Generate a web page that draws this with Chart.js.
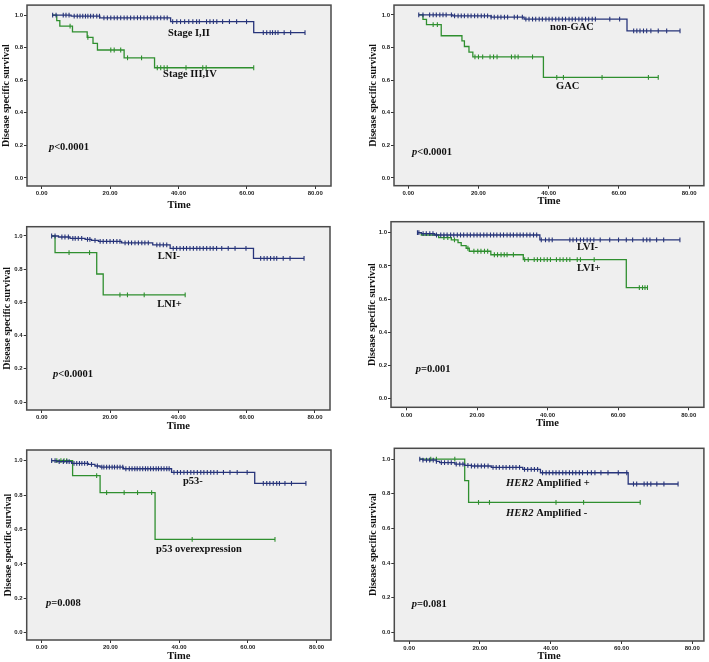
<!DOCTYPE html>
<html>
<head>
<meta charset="utf-8">
<script src="https://cdn.jsdelivr.net/npm/chart.js@4"></script>
<style>
  body { margin: 0; background: #fff; }
  canvas.panel { position: absolute; }
</style>
</head>
<body>
<canvas id="c1" class="panel"></canvas>
<canvas id="c2" class="panel"></canvas>
<canvas id="c3" class="panel"></canvas>
<canvas id="c4" class="panel"></canvas>
<canvas id="c5" class="panel"></canvas>
<canvas id="c6" class="panel"></canvas>
<script>
// axis ticks shared by all panels
const xTicks = [0, 20, 40, 60, 80];
const yTicks = [0, 0.2, 0.4, 0.6, 0.8, 1.0];

// Stage I,II vs Stage III,IV
const stageLowT = [3, 8.6, 17, 37.7, 62, 77];
const stageLowS = [1, 0.994, 0.984, 0.96, 0.893, 0.893];
const stageLowCens = [3.2, 4.2, 6.3, 7.1, 8.0, 9.5, 10.4, 11.2, 12.0, 12.8, 13.5, 14.3, 15.1, 16.1, 16.9, 18.2, 19.2, 20.2, 21.2, 22.1, 23.1, 24.1, 25.0, 26.0, 27.0, 28.0, 28.9, 29.9, 30.9, 31.9, 32.8, 33.8, 34.8, 35.8, 36.7, 38.3, 39.5, 40.6, 41.8, 43.0, 44.2, 45.3, 46.1, 48.2, 49.2, 50.2, 51.2, 52.9, 54.9, 57.0, 59.9, 64.8, 65.8, 66.8, 67.5, 68.3, 69.1, 70.9, 72.8, 77.0];
const stageHighT = [3, 4.4, 5.3, 9, 13.3, 15, 16.3, 24.1, 33, 62];
const stageHighS = [1, 0.966, 0.933, 0.897, 0.863, 0.827, 0.786, 0.738, 0.677, 0.677];
const stageHighCens = [8.3, 13.5, 20.2, 21.2, 23.1, 25.1, 29.2, 33.8, 34.8, 35.8, 36.7, 42.2, 47.1, 48.1, 62];

// non-GAC vs GAC
const nonGacT = [3, 12.7, 23.6, 33, 62.3, 77.4];
const nonGacS = [1, 0.994, 0.986, 0.974, 0.902, 0.902];
const nonGacCens = [3.0, 4.2, 6.1, 7.1, 8.0, 9.0, 9.9, 10.8, 12.3, 13.2, 14.2, 15.1, 16.0, 17.0, 17.9, 18.9, 19.8, 20.8, 21.7, 22.6, 23.6, 24.5, 25.5, 26.4, 27.4, 28.3, 30.2, 31.1, 32.5, 33.5, 34.4, 35.4, 36.3, 37.3, 38.2, 39.2, 40.1, 41.0, 42.0, 42.9, 43.9, 44.8, 45.8, 46.7, 47.6, 48.6, 49.5, 50.5, 51.4, 52.4, 53.3, 57.4, 60.2, 64.2, 65.1, 66.0, 67.0, 67.9, 69.1, 71.2, 73.6, 77.4];
const gacT = [3, 4.2, 5.2, 9.4, 15.3, 16, 17.3, 18.4, 38.5, 71.2];
const gacS = [1, 0.972, 0.94, 0.872, 0.84, 0.806, 0.772, 0.742, 0.616, 0.616];
const gacCens = [7.1, 8.3, 19.0, 20.0, 21.2, 23.3, 24.3, 25.3, 29.4, 30.4, 31.3, 35.4, 42.3, 44.2, 55.2, 68.4, 71.2];

// LNI- vs LNI+
const lniNegT = [3, 4.9, 8.3, 12.7, 14.6, 16.6, 23.4, 32.5, 37.6, 62, 76.8];
const lniNegS = [1, 0.994, 0.986, 0.98, 0.974, 0.968, 0.958, 0.946, 0.926, 0.865, 0.865];
const lniNegCens = [2.9, 3.9, 5.9, 6.8, 7.8, 9.1, 9.8, 10.7, 11.7, 13.4, 14.1, 15.6, 17.1, 18.0, 19.0, 20.0, 21.0, 22.0, 22.9, 24.4, 25.4, 26.3, 27.3, 28.3, 29.3, 30.2, 31.2, 33.7, 34.6, 35.6, 36.6, 38.5, 39.5, 40.5, 41.5, 42.4, 43.4, 44.4, 45.4, 46.3, 47.3, 48.3, 49.3, 50.2, 51.2, 52.7, 54.6, 56.6, 59.8, 64.1, 65.1, 66.0, 67.0, 68.0, 68.8, 70.7, 72.7, 76.8];
const lniPosT = [3, 3.9, 16.1, 18, 42];
const lniPosS = [1, 0.9, 0.771, 0.645, 0.645];
const lniPosCens = [8, 14, 22.9, 25.1, 30, 42];

// LVI- vs LVI+
const lviNegT = [3.1, 4.2, 8, 37.8, 77.5];
const lviNegS = [1, 0.994, 0.986, 0.956, 0.956];
const lviNegCens = [3.1, 3.5, 4.7, 5.6, 6.6, 7.5, 8.5, 9.7, 10.6, 11.5, 12.5, 13.4, 14.4, 15.3, 16.2, 17.2, 18.1, 19.1, 20.0, 20.9, 21.9, 22.8, 23.8, 24.7, 25.6, 26.6, 27.5, 28.5, 29.4, 30.3, 31.3, 32.2, 33.1, 34.1, 35.0, 36.0, 36.9, 38.2, 39.4, 40.4, 41.3, 46.3, 47.2, 48.2, 49.3, 50.2, 51.2, 52.1, 53.1, 54.9, 57.6, 60.1, 62.3, 64.1, 67.1, 68.1, 69.0, 70.9, 72.9, 77.5];
const lviPosT = [3.1, 4.2, 9.1, 12.7, 14.6, 15.5, 16.9, 17.8, 23.9, 33.1, 62.3, 68.3];
const lviPosS = [1, 0.986, 0.97, 0.956, 0.94, 0.922, 0.906, 0.888, 0.867, 0.837, 0.669, 0.669];
const lviPosCens = [10.6, 11.7, 13.6, 17.4, 19.1, 20.2, 21.1, 22.1, 23.0, 24.9, 25.8, 26.8, 27.7, 28.5, 30.3, 33.5, 34.5, 36.2, 37.1, 38.0, 39.0, 39.9, 40.8, 42.5, 43.5, 44.4, 45.4, 46.3, 48.4, 49.3, 53.2, 66.0, 66.9, 67.6, 68.3];

// p53- vs p53 overexpression
const p53NegT = [2.9, 4.4, 8.7, 13.6, 15.5, 17, 23.8, 37.8, 62, 76.9];
const p53NegS = [1, 0.994, 0.984, 0.979, 0.969, 0.963, 0.953, 0.932, 0.868, 0.868];
const p53NegCens = [2.9, 3.9, 5.1, 6.3, 7.3, 8.0, 9.4, 10.2, 11.0, 11.7, 12.5, 13.3, 14.5, 16.2, 17.5, 18.1, 18.9, 19.7, 20.5, 21.2, 22.0, 22.8, 23.6, 24.5, 25.5, 26.3, 27.1, 27.8, 28.6, 29.4, 30.2, 30.9, 31.7, 32.5, 33.3, 34.0, 34.8, 35.6, 36.4, 37.1, 38.5, 39.5, 40.4, 41.4, 42.4, 43.4, 44.3, 45.3, 46.3, 47.2, 48.2, 49.2, 50.1, 51.1, 52.9, 54.8, 56.9, 59.8, 64.5, 65.5, 66.4, 67.4, 68.4, 69.2, 70.8, 72.7, 76.9];
const p53OverT = [2.9, 9, 17, 33, 67.9];
const p53OverS = [1, 0.913, 0.814, 0.543, 0.543];
const p53OverCens = [4.4, 5.6, 6.5, 7.3, 16.0, 18.9, 24.0, 27.9, 32.0, 43.8, 67.9];

// HER2 Amplified + vs HER2 Amplified -
const her2PosT = [3, 3.9, 7.7, 8.6, 12.9, 15.7, 17.6, 23.2, 32.1, 37.1, 61.9, 76];
const her2PosS = [1, 0.994, 0.987, 0.979, 0.971, 0.963, 0.96, 0.952, 0.94, 0.921, 0.856, 0.856];
const her2PosCens = [3.0, 3.9, 4.9, 5.8, 6.8, 7.7, 9.1, 10.0, 11.0, 11.9, 13.3, 14.3, 15.2, 16.6, 17.6, 18.5, 19.4, 20.4, 21.3, 22.3, 23.7, 24.6, 25.5, 26.5, 27.4, 28.4, 29.3, 30.2, 31.2, 32.6, 33.5, 34.5, 35.4, 36.3, 37.7, 38.7, 39.6, 40.6, 41.5, 42.4, 43.4, 44.3, 45.3, 46.2, 47.1, 48.1, 49.0, 50.4, 51.5, 52.5, 54.2, 56.2, 59.1, 61.5, 63.4, 64.3, 66.4, 67.3, 68.3, 70.0, 72.0, 76.0];
const her2NegT = [3, 15.7, 16.8, 65.3];
const her2NegS = [1, 0.875, 0.75, 0.75];
const her2NegCens = [6.1, 7.7, 12.9, 19.6, 22.7, 41.5, 49.3, 65.3];

const BLUE = '#27347a';
const GREEN = '#2f8f2f';
const SERIF = '"Liberation Serif", "Times New Roman", serif';
const SANS = '"Liberation Sans", Arial, sans-serif';

// box = canvas [x, y, w, h]; frame = plot box [left, top, right, bottom], page pixels
const panels = [
  { id: 'c1', box: [0, 0, 355, 215], frame: [27, 2, 331, 186], x: [-4.3, 84.6], y: [-0.05, 1.062], yTitleX: 6, timeY: 205,
    curves: [[stageLowT, stageLowS, stageLowCens, BLUE], [stageHighT, stageHighS, stageHighCens, GREEN]],
    labels: [{ parts: [['Stage I,II']], at: [36.9, 0.887] }, { parts: [['Stage III,IV']], at: [35.5, 0.635] },
             { parts: [['p', true], ['<0.0001']], at: [2.1, 0.187] }] },
  { id: 'c2', box: [360, 0, 349, 215], frame: [394, 1, 706, 185.7], x: [-4.05, 84.2], y: [-0.048, 1.06], yTitleX: 373, timeY: 201.7,
    curves: [[nonGacT, nonGacS, nonGacCens, BLUE], [gacT, gacS, gacCens, GREEN]],
    labels: [{ parts: [['non-GAC']], at: [40.4, 0.922] }, { parts: [['GAC']], at: [42.1, 0.562] },
             { parts: [['p', true], ['<0.0001']], at: [1.05, 0.156] }] },
  { id: 'c3', box: [0, 215, 355, 225], frame: [26.7, 226.7, 330, 410], x: [-4.4, 84.4], y: [-0.048, 1.056], yTitleX: 7.5, timeY: 426.7,
    curves: [[lniNegT, lniNegS, lniNegCens, BLUE], [lniPosT, lniPosS, lniPosCens, GREEN]],
    labels: [{ parts: [['LNI-']], at: [34, 0.875] }, { parts: [['LNI+']], at: [33.8, 0.59] },
             { parts: [['p', true], ['<0.0001']], at: [3.3, 0.167] }] },
  { id: 'c4', box: [360, 215, 349, 225], frame: [391, 221.7, 706, 407.3], x: [-4.4, 84.3], y: [-0.052, 1.066], yTitleX: 372, timeY: 423.3,
    curves: [[lviNegT, lviNegS, lviNegCens, BLUE], [lviPosT, lviPosS, lviPosCens, GREEN]],
    labels: [{ parts: [['LVI-']], at: [48.3, 0.912] }, { parts: [['LVI+']], at: [48.3, 0.786] },
             { parts: [['p', true], ['=0.001']], at: [2.6, 0.179] }] },
  { id: 'c5', box: [0, 440, 355, 222], frame: [26.7, 450, 331, 640], x: [-4.36, 84.2], y: [-0.042, 1.062], yTitleX: 8.3, timeY: 657,
    curves: [[p53NegT, p53NegS, p53NegCens, BLUE], [p53OverT, p53OverS, p53OverCens, GREEN]],
    labels: [{ parts: [['p53-']], at: [41.1, 0.878] }, { parts: [['p53 overexpression']], at: [33.3, 0.487] },
             { parts: [['p', true], ['=0.008']], at: [1.25, 0.171] }] },
  { id: 'c6', box: [360, 440, 349, 222], frame: [394.3, 448.3, 705, 641], x: [-4.2, 83.3], y: [-0.05, 1.062], yTitleX: 373, timeY: 656.7,
    curves: [[her2PosT, her2PosS, her2PosCens, BLUE], [her2NegT, her2NegS, her2NegCens, GREEN]],
    labels: [{ parts: [['HER2', true], [' Amplified +']], at: [27.4, 0.86] }, { parts: [['HER2', true], [' Amplified -']], at: [27.4, 0.688] },
             { parts: [['p', true], ['=0.081']], at: [0.76, 0.162] }] }
];

// survival value of a step curve at time t
function survAt(times, surv, t) {
  let s = surv[0];
  times.forEach((tt, i) => { if (tt <= t) s = surv[i]; });
  return s;
}

const framePlugin = {
  id: 'kmFrame',
  beforeDraw(chart) {
    const { ctx, chartArea: a } = chart;
    ctx.save();
    ctx.fillStyle = '#efefef';
    ctx.fillRect(a.left, a.top, a.right - a.left, a.bottom - a.top);
    ctx.restore();
  },
  afterDraw(chart) {
    const { ctx, chartArea: a, scales } = chart;
    ctx.save();
    ctx.strokeStyle = '#4a4a4a';
    ctx.lineWidth = 1.5;
    ctx.strokeRect(a.left, a.top, a.right - a.left, a.bottom - a.top);
    ctx.fillStyle = '#111';
    ctx.textBaseline = 'middle';
    ctx.textAlign = 'left';
    chart.options.plugins.kmFrame.labels.forEach(lab => {
      let px = scales.x.getPixelForValue(lab.at[0]);
      const py = scales.y.getPixelForValue(lab.at[1]);
      lab.parts.forEach(([text, italic]) => {
        ctx.font = (italic ? 'italic ' : '') + 'bold 10.5px ' + SERIF;
        ctx.fillText(text, px, py);
        px += ctx.measureText(text).width;
      });
    });
    ctx.restore();
  }
};

panels.forEach(p => {
  const canvas = document.getElementById(p.id);
  const [bx, by, bw, bh] = p.box;
  const [fl, ft, fr, fb] = p.frame;
  canvas.width = bw;
  canvas.height = bh;
  canvas.style.left = bx + 'px';
  canvas.style.top = by + 'px';

  const datasets = [];
  p.curves.forEach(([times, surv, cens, color]) => {
    datasets.push({
      data: times.map((t, i) => ({ x: t, y: surv[i] })),
      borderColor: color,
      borderWidth: 1.3,
      stepped: true,
      pointRadius: 0,
      fill: false
    });
    datasets.push({
      data: cens.map(t => ({ x: t, y: survAt(times, surv, t) })),
      showLine: false,
      pointStyle: 'line',
      rotation: 90,
      pointRadius: 2.4,
      borderColor: color,
      borderWidth: 1.1
    });
  });

  new Chart(canvas, {
    type: 'line',
    data: { datasets },
    options: {
      responsive: false,
      animation: false,
      devicePixelRatio: 1,
      layout: { padding: { left: 0, top: ft - by, right: bx + bw - fr, bottom: 0 } },
      plugins: {
        legend: { display: false },
        tooltip: { enabled: false },
        kmFrame: { labels: p.labels }
      },
      scales: {
        x: {
          type: 'linear',
          min: p.x[0],
          max: p.x[1],
          afterBuildTicks: s => { s.ticks = xTicks.map(v => ({ value: v })); },
          afterFit: s => { s.height = by + bh - fb; },
          grid: { drawOnChartArea: false, drawTicks: true, tickLength: 3, tickColor: '#333' },
          border: { display: false },
          ticks: { autoSkip: false, maxRotation: 0, padding: 1, color: '#222',
                   font: { family: SANS, size: 6, weight: 'bold' }, callback: v => v.toFixed(2) },
          title: { display: true, text: 'Time', color: '#111',
                   font: { family: SERIF, size: 10.5, weight: 'bold', lineHeight: 1 },
                   padding: { top: 0, bottom: Math.max(0, by + bh - p.timeY - 5.25) } }
        },
        y: {
          min: p.y[0],
          max: p.y[1],
          afterBuildTicks: s => { s.ticks = yTicks.map(v => ({ value: v })); },
          afterFit: s => { s.width = fl - bx; },
          grid: { drawOnChartArea: false, drawTicks: true, tickLength: 3, tickColor: '#333' },
          border: { display: false },
          ticks: { autoSkip: false, padding: 1, color: '#222',
                   font: { family: SANS, size: 6, weight: 'bold' }, callback: v => v.toFixed(1) },
          title: { display: true, text: 'Disease specific survival', color: '#111',
                   font: { family: SERIF, size: 10, weight: 'bold', lineHeight: 1 },
                   padding: { top: Math.max(0, p.yTitleX - bx - 5), bottom: 0 } }
        }
      }
    },
    plugins: [framePlugin]
  });
});
</script>
</body>
</html>
